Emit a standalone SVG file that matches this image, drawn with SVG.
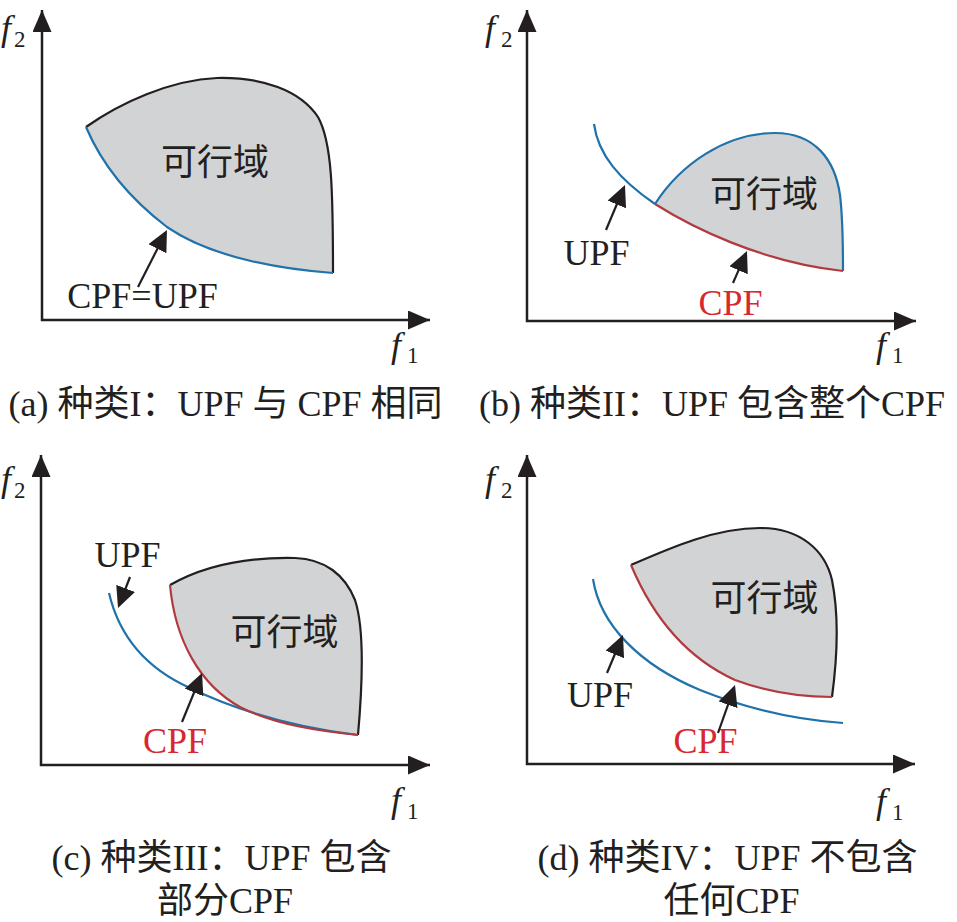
<svg xmlns="http://www.w3.org/2000/svg" width="957" height="922" viewBox="0 0 957 922">
<style>
.bg{fill:#ffffff}
.axis{fill:none;stroke:#231f20;stroke-width:2.5;marker-start:url(#axh);marker-end:url(#axh)}
.region{fill:#d1d3d4;stroke:none}
.blk{fill:none;stroke:#231f20;stroke-width:2.2}
.blu{fill:none;stroke:#1f72aa;stroke-width:2.2}
.red{fill:none;stroke:#b23a3f;stroke-width:2.2}
.ptr{fill:none;stroke:#231f20;stroke-width:2.2;marker-end:url(#ptrh)}
.fi{font-family:"Liberation Serif",serif;font-style:italic;font-size:36px;fill:#231f20}
.sub{font-family:"Liberation Serif",serif;font-size:23px;fill:#231f20}
.lbl{font-family:"Liberation Serif",serif;font-size:36px;fill:#231f20;text-anchor:middle}
.lblr{font-family:"Liberation Serif",serif;font-size:36px;fill:#d7282f;text-anchor:middle}
.feas{font-family:"Noto Sans CJK SC",sans-serif;font-size:36px;fill:#231f20;text-anchor:middle}
.cap{font-family:"Liberation Serif","Noto Sans CJK SC",serif;font-size:36px;fill:#231f20;text-anchor:middle}
</style>
<defs>
<marker id="axh" viewBox="0 0 22 19" refX="22" refY="9.5" markerWidth="22" markerHeight="19" markerUnits="userSpaceOnUse" orient="auto-start-reverse"><path d="M0,0 L22,9.5 L0,19 Z" fill="#231f20"/></marker>
<marker id="ptrh" viewBox="0 0 21 20" refX="18" refY="10" markerWidth="21" markerHeight="20" markerUnits="userSpaceOnUse" orient="auto"><path d="M0,0 L21,10 L0,20 Z" fill="#231f20"/></marker>
</defs>
<rect class="bg" x="0" y="0" width="957" height="922"/>

<!-- Panel (a) -->
<g id="panel-a">
<path class="axis" d="M42,10 L42,320 L430,320"/>
<text class="fi" x="1" y="40">f</text><text class="sub" x="14" y="47">2</text>
<text class="fi" x="391" y="357">f</text><text class="sub" x="407" y="363">1</text>
<g id="a-region">
<path class="region" d="M86,127 C120,103 170,80 217,78 C262,77 300,90 318,117 C332,142 333,190 333,273 C290,270 215,260 167,227 C125,195 100,160 86,127 Z"/>
<path class="blk" d="M86,127 C120,103 170,80 217,78 C262,77 300,90 318,117 C332,142 333,190 333,273"/>
<path class="blu" d="M86,127 C100,160 125,195 167,227 C215,260 290,270 333,273"/>
<text class="feas" x="215" y="175">可行域</text>
</g>
<g id="a-label"><text class="lbl" x="142.5" y="308">CPF=UPF</text></g>
<text class="cap" x="225.5" y="416">(a) 种类I：UPF 与 CPF 相同</text>
</g>

<!-- Panel (b) -->
<g id="panel-b">
<path class="axis" d="M527,10 L527,321 L916,321"/>
<text class="fi" x="485" y="40">f</text><text class="sub" x="501" y="47">2</text>
<text class="fi" x="876" y="357">f</text><text class="sub" x="892" y="363">1</text>
<g id="b-region">
<path class="region" d="M655,204 C680,165 725,133 775,133 C815,133 835,160 840,195 C843,220 843,250 843,271 C760,262 690,226 655,204 Z"/>
<path class="blu" d="M594,124 C598,155 620,180 655,204"/>
<path class="blu" d="M655,204 C680,165 725,133 775,133 C815,133 835,160 840,195 C843,220 843,250 843,271"/>
<path class="red" d="M655,204 C690,226 760,262 843,271"/>
<text class="feas" x="764" y="207">可行域</text>
</g>
<g id="b-upf"><text class="lbl" x="596.5" y="265">UPF</text></g>
<g id="b-cpf"><text class="lblr" x="730.5" y="315">CPF</text></g>
<text class="cap" x="712" y="416">(b) 种类II：UPF 包含整个CPF</text>
</g>

<!-- Panel (c) -->
<g id="panel-c">
<path class="axis" d="M41,455 L41,765 L430,765"/>
<text class="fi" x="1" y="491">f</text><text class="sub" x="14" y="498">2</text>
<text class="fi" x="391" y="812">f</text><text class="sub" x="407" y="819">1</text>
<g id="c-region">
<path class="region" d="M170,585 C205,565 250,557 295,558 C325,559 345,575 355,600 C365,630 362,690 358,735 C320,731 275,725 240,707 C200,685 175,640 170,585 Z"/>
<path class="blu" d="M109,593 C120,640 150,670 190,688 C240,712 300,728 358,735"/>
<path class="blk" d="M170,585 C205,565 250,557 295,558 C325,559 345,575 355,600 C365,630 362,690 358,735"/>
<path class="red" d="M170,585 C175,640 200,685 240,707 C275,725 320,731 358,735"/>
<text class="feas" x="284.5" y="645">可行域</text>
</g>
<g id="c-upf"><text class="lbl" x="127.5" y="567">UPF</text></g>
<g id="c-cpf"><text class="lblr" x="175" y="753">CPF</text></g>
<text class="cap" x="221.5" y="870">(c) 种类III：UPF 包含</text>
<text class="cap" x="225" y="913">部分CPF</text>
</g>

<!-- Panel (d) -->
<g id="panel-d">
<path class="axis" d="M527,455 L527,764 L915,764"/>
<text class="fi" x="485" y="491">f</text><text class="sub" x="501" y="498">2</text>
<text class="fi" x="876" y="813">f</text><text class="sub" x="892" y="820">1</text>
<g id="d-region">
<path class="region" d="M631,565 C670,548 715,528 760,528 C800,528 825,550 832,580 C840,620 837,660 832,697 C800,697 770,693 735,680 C680,655 650,610 631,565 Z"/>
<path class="blk" d="M631,565 C670,548 715,528 760,528 C800,528 825,550 832,580 C840,620 837,660 832,697"/>
<path class="red" d="M631,565 C650,610 680,655 735,680 C770,693 800,697 832,697"/>
<path class="blu" d="M593,579 C600,625 640,665 700,690 C750,710 800,720 843,723"/>
<text class="feas" x="764.5" y="611">可行域</text>
</g>
<g id="d-upf"><text class="lbl" x="600" y="707">UPF</text></g>
<g id="d-cpf"><text class="lblr" x="705.5" y="753">CPF</text></g>
<text class="cap" x="727.5" y="870">(d) 种类IV：UPF 不包含</text>
<text class="cap" x="731.5" y="913">任何CPF</text>
</g>

<!-- Connectors (pointer arrows) -->
<g id="connectors">
<line class="ptr" x1="138" y1="287" x2="165.6" y2="232.7"/>
<line class="ptr" x1="606" y1="230" x2="623.8" y2="187.8"/>
<line class="ptr" x1="733" y1="283" x2="745.8" y2="253.8"/>
<line class="ptr" x1="130" y1="577" x2="119.1" y2="605.2"/>
<line class="ptr" x1="182" y1="722" x2="200.9" y2="675.8"/>
<line class="ptr" x1="607" y1="673" x2="621.8" y2="637.8"/>
<line class="ptr" x1="718" y1="733" x2="734" y2="687.8"/>
</g>
</svg>
